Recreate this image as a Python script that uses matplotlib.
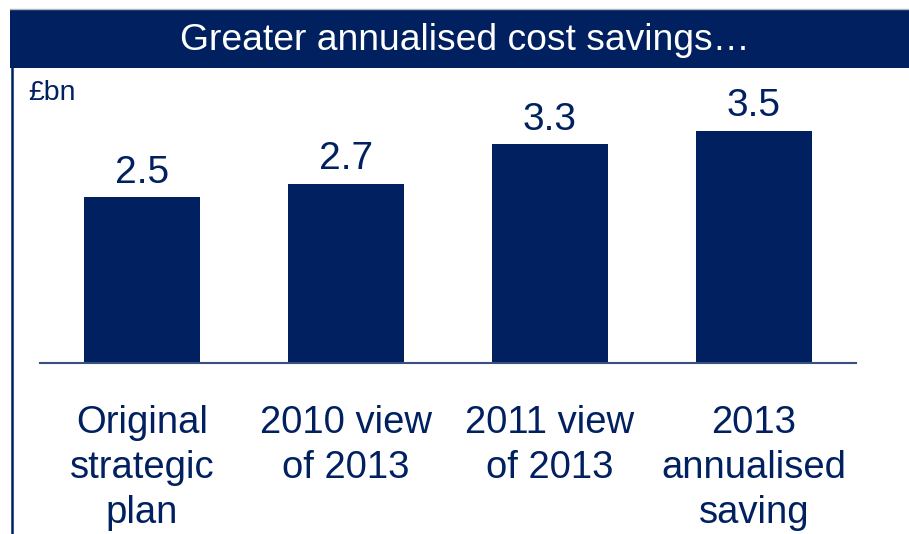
import matplotlib
matplotlib.use('Agg')
import matplotlib.pyplot as plt
from matplotlib.patches import Rectangle
from matplotlib.lines import Line2D

categories = ['Original\nstrategic\nplan', '2010 view\nof 2013', '2011 view\nof 2013', '2013\nannualised\nsaving']
savings_bn = [2.5, 2.7, 3.3, 3.5]
value_labels = ['2.5', '2.7', '3.3', '3.5']

navy = '#002060'
plt.rcParams['font.family'] = ['Liberation Sans', 'DejaVu Sans']

W, H = 909, 534
fig = plt.figure(figsize=(W / 100, H / 100), dpi=100)

# header banner
fig.patches.append(Rectangle((10 / W, 1 - 68 / H), 1 - 10 / W, 58 / H,
                             transform=fig.transFigure, facecolor=navy,
                             edgecolor='none', zorder=0))
fig.lines.append(Line2D([10 / W, 1], [1 - 9 / H, 1 - 9 / H], transform=fig.transFigure,
                        color='#b0b4bc', linewidth=1.0))
fig.lines.append(Line2D([11.5 / W, 11.5 / W], [0, 1 - 68 / H], transform=fig.transFigure,
                        color=navy, linewidth=1.8))
fig.text(465 / W, 1 - 41 / H, 'Greater annualised cost savings\u2026', color='white',
         fontsize=26.8, ha='center', va='center')
fig.text(28 / W, 1 - 93 / H, '£bn', color=navy, fontsize=20.5, ha='left', va='center')

# bar area
left, right, base = 40, 856, 363
ymax = 4.4
px_per_unit = 66.4
top = base - ymax * px_per_unit
ax = fig.add_axes([left / W, 1 - base / H, (right - left) / W, (base - top) / H])
ax.set_facecolor('none')

x = range(len(categories))
bars = ax.bar(x, savings_bn, width=0.57, color=navy, zorder=2)
for rect, lab in zip(bars, value_labels):
    ax.annotate(lab, (rect.get_x() + rect.get_width() / 2, rect.get_height()),
                xytext=(0, 4.5), textcoords='offset points', ha='center', va='bottom',
                fontsize=28, color=navy)

ax.set_xlim(-0.5, 3.5)
ax.set_ylim(0, ymax)
ax.set_xticks(list(x), categories)
ax.tick_params(axis='x', length=0, pad=30.5, labelsize=27.5, labelcolor=navy)
for t in ax.get_xticklabels():
    t.set_linespacing(1.31)
ax.set_yticks([])
for s in ['top', 'left', 'right']:
    ax.spines[s].set_visible(False)
ax.spines['bottom'].set_color('#3a4f80')
ax.spines['bottom'].set_linewidth(1.5)

fig.savefig('out.png', dpi=100)
